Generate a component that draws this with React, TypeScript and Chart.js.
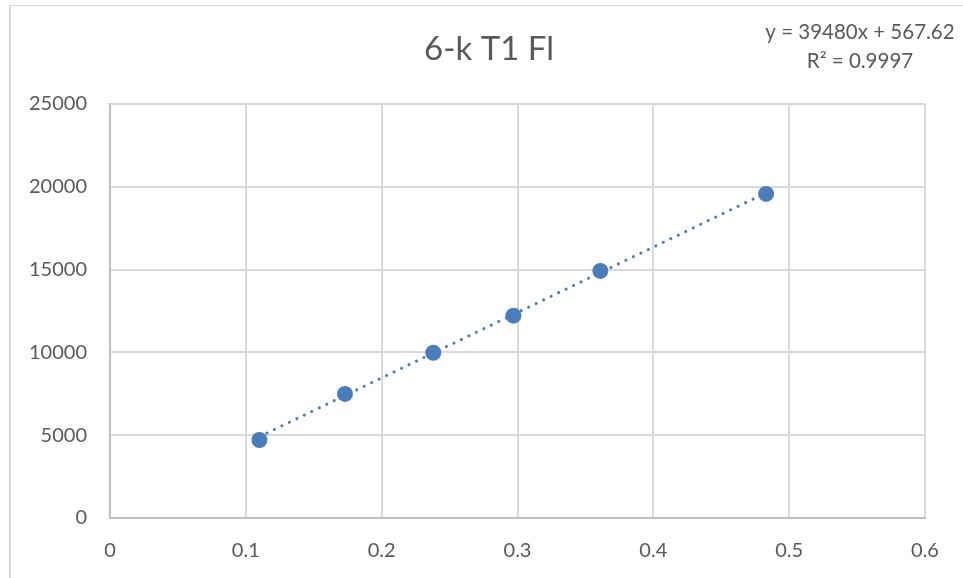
import React, { useEffect, useRef } from "react";
import { Chart, registerables } from "chart.js";

Chart.register(...registerables);

const TITLE = "6-k T1 Fl";
const xValues = [0.11, 0.173, 0.238, 0.297, 0.361, 0.483];
const yValues = [4710, 7490, 9980, 12220, 14920, 19570];
const trendSlope = 39480;
const trendIntercept = 567.62;
const equationLines = ["y = 39480x + 567.62", "R² = 0.9997"];
const xTicks = [0, 0.1, 0.2, 0.3, 0.4, 0.5, 0.6];
const yTicks = [0, 5000, 10000, 15000, 20000, 25000];

const FONT = "Lato, 'Open Sans', sans-serif";
const TEXT = "#595959";
const BLUE = "#4a7ebb";
const GRID = "#d9d9d9";

const decorPlugin = {
  id: "decor",
  beforeDraw(chart: any) {
    const ctx = chart.ctx;
    ctx.save();
    ctx.fillStyle = "#ffffff";
    ctx.fillRect(0, 0, chart.width, chart.height);
    ctx.strokeStyle = GRID;
    ctx.lineWidth = 2;
    ctx.beginPath();
    ctx.moveTo(10, chart.height);
    ctx.lineTo(10, 5.5);
    ctx.stroke();
    ctx.lineWidth = 1;
    ctx.beginPath();
    ctx.moveTo(9, 5.5);
    ctx.lineTo(chart.width, 5.5);
    ctx.stroke();
    ctx.restore();
  },
  afterDraw(chart: any) {
    const ctx = chart.ctx;
    ctx.save();
    ctx.fillStyle = TEXT;
    ctx.textAlign = "center";
    ctx.textBaseline = "middle";
    ctx.font = `33px ${FONT}`;
    ctx.fillText(TITLE, 489, 49);
    ctx.font = `20.5px ${FONT}`;
    ctx.fillText(equationLines[0], 860, 32);
    ctx.fillText(equationLines[1], 860, 61);
    ctx.restore();
  },
};

export default function App() {
  const ref = useRef<HTMLCanvasElement>(null);
  useEffect(() => {
    if (!ref.current) return;
    const x0 = xValues[0];
    const x1 = xValues[xValues.length - 1];
    const trend = [
      { x: x0, y: trendSlope * x0 + trendIntercept },
      { x: x1, y: trendSlope * x1 + trendIntercept },
    ];
    const chart = new Chart(ref.current, {
      type: "scatter",
      data: {
        datasets: [
          {
            type: "line",
            data: trend,
            borderColor: BLUE,
            borderWidth: 3,
            borderDash: [0.1, 8.2],
            borderCapStyle: "round",
            pointRadius: 0,
            fill: false,
            order: 2,
          } as any,
          {
            data: xValues.map((x, i) => ({ x, y: yValues[i] })),
            backgroundColor: BLUE,
            borderColor: BLUE,
            pointRadius: 8,
            borderWidth: 0,
            order: 1,
          },
        ],
      },
      options: {
        animation: false,
        responsive: false,
        devicePixelRatio: 1,
        layout: { padding: { left: 0, right: 38, top: 104, bottom: 0 } },
        plugins: { legend: { display: false }, tooltip: { enabled: false }, title: { display: false } },
        scales: {
          x: {
            type: "linear",
            min: 0,
            max: 0.6,
            afterBuildTicks: (s: any) => {
              s.ticks = xTicks.map((v) => ({ value: v }));
            },
            afterFit: (s: any) => {
              s.height = 60;
            },
            ticks: {
              color: TEXT,
              font: { family: FONT, size: 20 },
              padding: 21,
              callback: (v: any) => String(Number(Number(v).toFixed(1))),
            },
            grid: { color: GRID, lineWidth: 2, drawTicks: false },
            border: { color: "#bfbfbf", width: 2 },
          },
          y: {
            type: "linear",
            min: 0,
            max: 25000,
            afterBuildTicks: (s: any) => {
              s.ticks = yTicks.map((v) => ({ value: v }));
            },
            afterFit: (s: any) => {
              s.width = 110;
            },
            ticks: {
              color: TEXT,
              font: { family: FONT, size: 20 },
              padding: 23,
              callback: (v: any) => String(v),
            },
            grid: { color: GRID, lineWidth: 2, drawTicks: false },
            border: { color: "#bfbfbf", width: 2 },
          },
        },
      },
      plugins: [decorPlugin],
    });
    return () => chart.destroy();
  }, []);
  return (
    <div style={{ position: "fixed", left: 0, top: 0, width: 963, height: 578 }}>
      <canvas ref={ref} width={963} height={578} style={{ width: 963, height: 578 }} />
    </div>
  );
}
